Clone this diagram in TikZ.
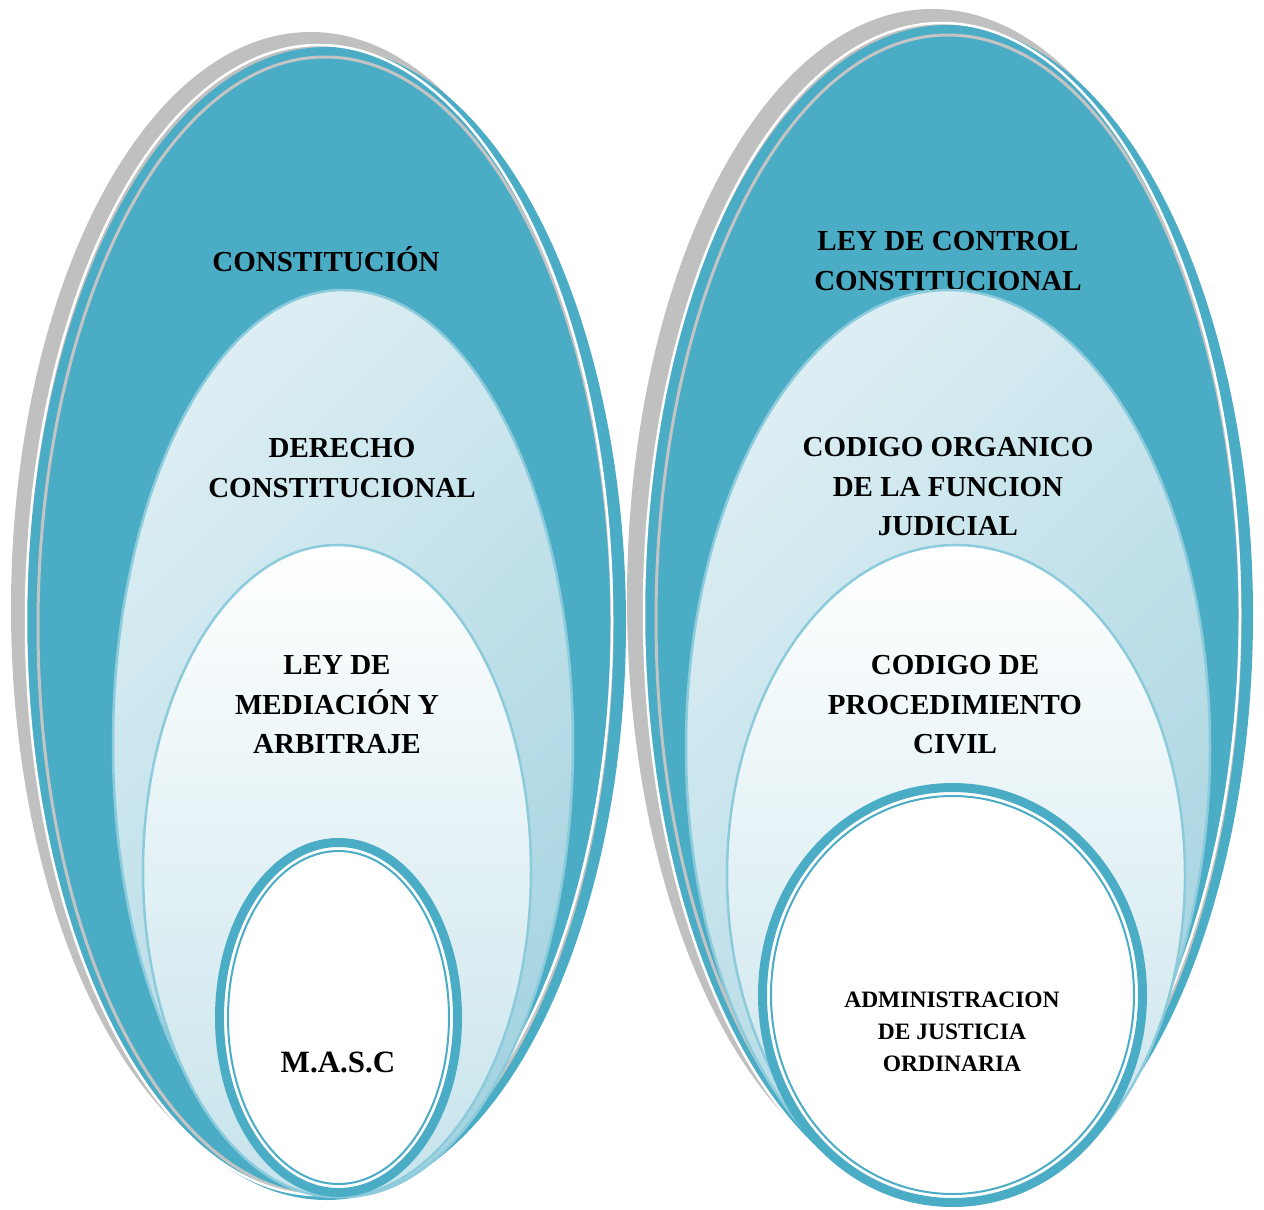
\documentclass[tikz,border=0pt]{standalone}
\usepackage{fontspec}
\setmainfont{Liberation Serif}
\usetikzlibrary{shapes.geometric}

\definecolor{accblue}{HTML}{4BACC6}
\definecolor{shadowgray}{HTML}{C0C0C0}
\definecolor{rimgray}{HTML}{C4C4C4}
\definecolor{edgeblue}{HTML}{8CCBDB}
\definecolor{midlight}{HTML}{DCEEF3}
\definecolor{middark}{HTML}{A6D4E1}
\definecolor{innerdark}{HTML}{C6E3EB}

\begin{document}
\begin{tikzpicture}[x=1pt, y=-1pt]
	\tikzstyle{ring} = [
		ellipse, inner sep=0pt, outer sep=0pt
	]
	\tikzstyle{shadowring} = [
		ring, fill=shadowgray
	]
	\tikzstyle{outerring} = [
		ring, fill=accblue
	]
	\tikzstyle{whiterim} = [
		ring, draw=white, line width=2.5pt
	]
	\tikzstyle{grayrim} = [
		ring, draw=rimgray, line width=3pt
	]
	\tikzstyle{middlering} = [
		ring, draw=edgeblue, line width=2.5pt,
		top color=midlight, bottom color=middark, shading angle=45
	]
	\tikzstyle{innerring} = [
		ring, draw=edgeblue, line width=2.5pt,
		top color=white, bottom color=innerdark
	]
	\tikzstyle{corering} = [
		ring, fill=white, draw=accblue, line width=9pt
	]
	\tikzstyle{coreline} = [
		ring, draw=accblue, line width=2pt
	]
	\tikzstyle{caption} = [
		font=\fontsize{29}{39.5}\selectfont\bfseries, align=center, inner sep=0pt
	]

	\useasboundingbox (0,0) rectangle (1264,1210);

	% Constitucion (left)
	\node (Constitucion_shadow) [shadowring, minimum width=599pt, minimum height=1153pt] at (310.5,608.5) {};
	\node (Constitucion) [outerring, minimum width=599pt, minimum height=1153pt] at (326.5,623.5) {};
	\node (Constitucion_line) [grayrim, minimum width=574pt, minimum height=1138pt] at (325,626) {};
	\node (Constitucion_rim) [whiterim, minimum width=586pt, minimum height=1150pt] at (319,620) {};
	\node (Constitucion_txt) [caption] at (326,259) {CONSTITUCIÓN};

	% Derecho constitucional
	\node (Derecho) [middlering, minimum width=460pt, minimum height=907pt] at (343,743.5) {};
	\node (Derecho_txt) [caption] at (342,468) {DERECHO\\CONSTITUCIONAL};

	% Ley de mediacion
	\node (Mediacion) [innerring, minimum width=388pt, minimum height=652pt] at (337,871) {};
	\node (Mediacion_txt) [caption] at (337,705) {LEY DE\\MEDIACIÓN Y\\ARBITRAJE};

	% MASC
	\node (Masc) [corering, minimum width=238pt, minimum height=350pt] at (338.5,1017.5) {};
	\node (Masc_line) [coreline, minimum width=221pt, minimum height=333pt] at (338.5,1017.5) {};
	\node (Masc_txt) [caption, font=\fontsize{31}{38}\selectfont\bfseries] at (338,1062) {M.A.S.C};

	% Ley de control constitucional (right)
	\node (Control_shadow) [shadowring, minimum width=610pt, minimum height=1180pt] at (932,599) {};
	\node (Control) [outerring, minimum width=610pt, minimum height=1180pt] at (948,615) {};
	\node (Control_line) [grayrim, minimum width=584pt, minimum height=1168pt] at (948,619) {};
	\node (Control_rim) [whiterim, minimum width=596pt, minimum height=1180pt] at (942,613) {};
	\node (Control_txt) [caption] at (948,261) {LEY DE CONTROL\\CONSTITUCIONAL};

	% Codigo organico
	\node (Organico) [middlering, minimum width=524pt, minimum height=915pt] at (948,747.5) {};
	\node (Organico_txt) [caption] at (948,487) {CODIGO ORGANICO\\DE LA FUNCION\\JUDICIAL};

	% Codigo de procedimiento
	\node (Procedimiento) [innerring, minimum width=458pt, minimum height=660pt] at (956,875) {};
	\node (Procedimiento_txt) [caption] at (955,705) {CODIGO DE\\PROCEDIMIENTO\\CIVIL};

	% Administracion de justicia
	\node (Justicia) [corering, minimum width=380pt, minimum height=415pt] at (952.5,995) {};
	\node (Justicia_line) [coreline, minimum width=363pt, minimum height=398pt] at (952.5,995) {};
	\node (Justicia_txt) [caption, font=\fontsize{23.5}{32}\selectfont\bfseries] at (952,1032) {ADMINISTRACION\\DE JUSTICIA\\ORDINARIA};

\end{tikzpicture}
\end{document}
